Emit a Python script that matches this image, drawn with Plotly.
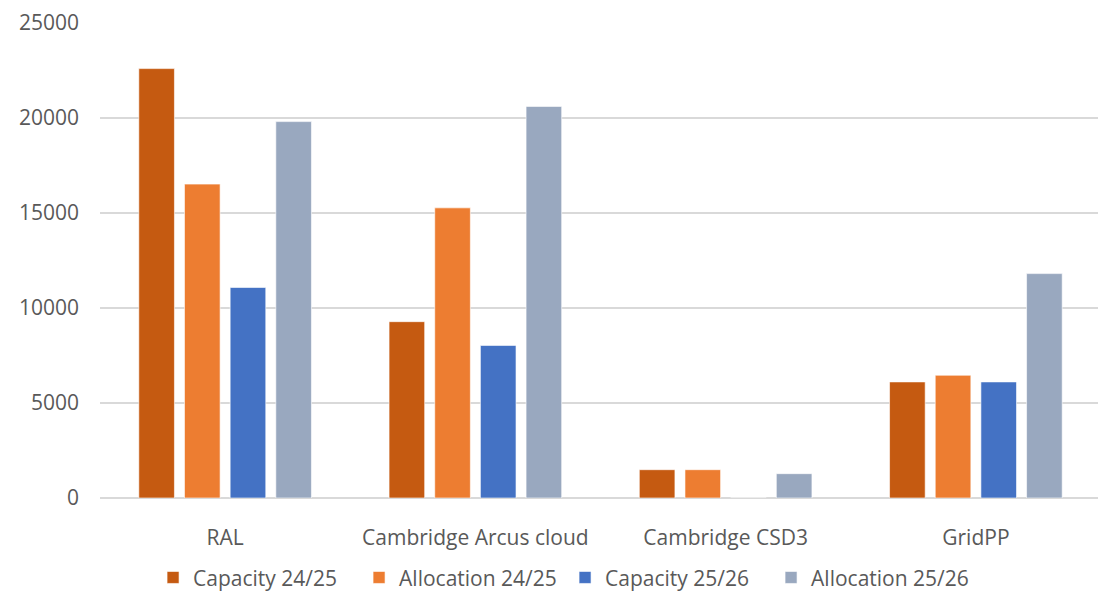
import plotly.graph_objects as go

categories = ["RAL", "Cambridge Arcus cloud", "Cambridge CSD3", "GridPP"]
capacity_2425 = [22600, 9280, 1490, 6110]
allocation_2425 = [16520, 15270, 1490, 6460]
capacity_2526 = [11080, 8030, 0, 6110]
allocation_2526 = [19810, 20610, 1280, 11810]

series = [
    ("Capacity 24/25", capacity_2425, "#C55A11"),
    ("Allocation 24/25", allocation_2425, "#ED7D31"),
    ("Capacity 25/26", capacity_2526, "#4472C4"),
    ("Allocation 25/26", allocation_2526, "#99A8BF"),
]

FONT = "Open Sans"
fig = go.Figure()
for name, vals, col in series:
    fig.add_trace(go.Bar(
        x=categories, y=vals, name=name,
        marker=dict(color=col, line=dict(color="rgba(255,255,255,0.6)", width=1)),
    ))

fig.update_layout(
    width=1098, height=595,
    paper_bgcolor="white", plot_bgcolor="white",
    margin=dict(l=92, r=5, t=15, b=105, autoexpand=False),
    barmode="group", bargap=0.27, bargroupgap=0.22,
    font=dict(family=FONT, color="#595959", size=21),
    showlegend=True,
    legend=dict(orientation="h", x=0.053, xanchor="left", y=-0.168, yanchor="middle",
                font=dict(family=FONT, size=21, color="#595959"),
                itemwidth=30, entrywidth=161, entrywidthmode="pixels", traceorder="normal"),
    xaxis=dict(showgrid=False, showline=False, ticks="", ticklabelstandoff=25,
               tickfont=dict(family=FONT, size=21, color="#595959")),
    yaxis=dict(range=[0, 25000], dtick=5000, showgrid=True, gridcolor="#D9D9D9", gridwidth=1.5,
               zeroline=True, zerolinecolor="#D9D9D9", zerolinewidth=1.5,
               tickformat="d", ticks="", ticklabelstandoff=20, ticklabeloverflow="allow",
               tickfont=dict(family=FONT, size=21, color="#595959")),
)

fig.write_html("out.html")
